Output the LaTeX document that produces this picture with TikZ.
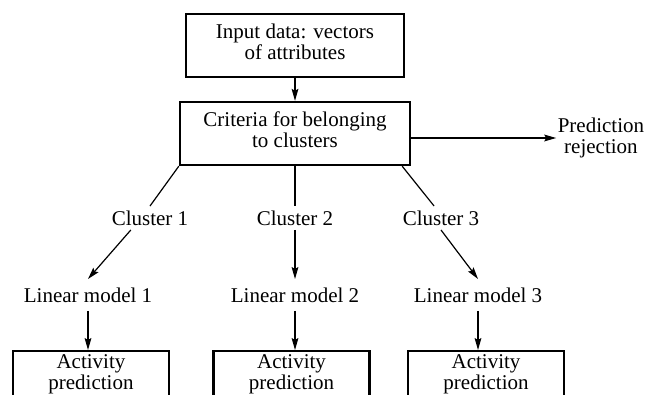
\documentclass[tikz,border=0pt]{standalone}
\usepackage{fontspec}
\setmainfont{Liberation Serif}
\usetikzlibrary{arrows.meta,positioning}

\begin{document}
\begin{tikzpicture}[x=1pt,y=1pt,>={Stealth[length=6pt,width=3.4pt,inset=1pt]},line width=0.6pt,
  font=\fontsize{10.5}{10.5}\selectfont,
  block node/.style={draw,line width=1.2pt,align=center,inner sep=0pt,text depth=4pt},
  cluster node/.style={inner sep=2pt},
  model node/.style={inner sep=4pt},
  result node/.style={draw,line width=1.2pt,align=center,minimum width=78pt,inner xsep=0pt,inner ysep=1.5pt,text depth=40pt}]

  \path[use as bounding box,clip] (0,0) rectangle (323.5,-197.5);

  \node[block node,minimum width=109pt,minimum height=31.5pt] (input) at (147.5,-22.75) {Input data: vectors\\of attributes};
  \node[block node,minimum width=115pt,minimum height=31.5pt] (crit) [below of = input,node distance=44pt] {Criteria for belonging\\to clusters};
  \node[align=center,inner sep=0.5pt] (rej) [right=72.5pt of crit.east,yshift=-2.25pt] {Prediction\\rejection};

  \node[cluster node] (c2) [below of = crit,node distance=42.25pt] {Cluster 2};
  \node[cluster node] (c1) [left of = c2,node distance=72.5pt] {Cluster 1};
  \node[cluster node] (c3) [right of = c2,node distance=73pt] {Cluster 3};

  \node[model node] (lm2) [below of = c2,node distance=38.5pt] {Linear model 2};
  \node[model node] (lm1) [below of = c1,node distance=38.5pt,xshift=-31pt] {Linear model 1};
  \node[model node] (lm3) [below of = c3,node distance=38.5pt,xshift=18.5pt] {Linear model 3};

  \node[result node] (act1) [below of = lm1,node distance=27.5pt,xshift=1.5pt,anchor=north] {Activity\\prediction};
  \node[result node] (act2) [below of = lm2,node distance=27.5pt,xshift=-1.75pt,anchor=north] {Activity\\prediction};
  \node[result node] (act3) [below of = lm3,node distance=27.5pt,xshift=4pt,anchor=north] {Activity\\prediction};

  \draw[->] (input) -- (crit);
  \draw[->] (crit.east |- rej) -- (rej);

  \draw[-] (crit.south west) -- (c1.north);
  \draw[-] (crit) -- (c2);
  \draw[-] ([xshift=-4.5pt]crit.south east) -- (c3.120);

  \draw[->] (c1.212) -- (lm1.north);
  \draw[->] (c2) -- (lm2);
  \draw[->] (c3.south) -- (lm3.north);

  \draw[->] (lm1) -- (lm1 |- act1.north);
  \draw[->] (lm2) -- (lm2 |- act2.north);
  \draw[->] (lm3) -- (lm3 |- act3.north);
\end{tikzpicture}
\end{document}
